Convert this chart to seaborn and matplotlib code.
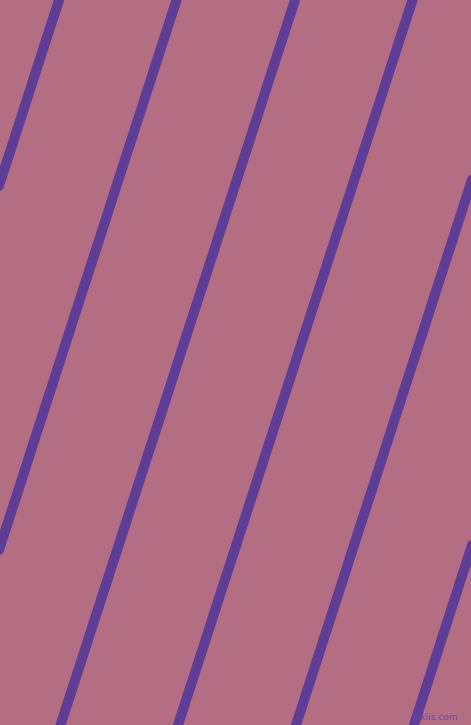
import numpy as np
import pandas as pd
import matplotlib
matplotlib.use("Agg")
import matplotlib.pyplot as plt
import seaborn as sns

# Stripe positions: x where each stripe meets the top and bottom edge
top_x = [-176.0, -58.5, 59.0, 176.5, 295.0, 412.5, 530.0, 647.5]
bottom_x = [-410.5, -293.0, -175.0, -57.5, 60.5, 178.0, 296.0, 414.0]
edge_y = [0, 725]

background = "#B46E83"
stripe_color = "#5D3D96"

# Build a long table: one row per stripe end
rows = []
for i, (xt, xb) in enumerate(zip(top_x, bottom_x)):
    rows.append({"stripe": i, "x": xt, "y": edge_y[0]})
    rows.append({"stripe": i, "x": xb, "y": edge_y[1]})
df = pd.DataFrame(rows)

sns.set_style("white")
fig = plt.figure(figsize=(4.71, 7.25), dpi=100)
ax = fig.add_axes([0, 0, 1, 1])
fig.patch.set_facecolor(background)
ax.set_facecolor(background)

# Draw the diagonal stripes
sns.lineplot(data=df, x="x", y="y", units="stripe", estimator=None,
             color=stripe_color, linewidth=7.2, sort=False, ax=ax, legend=False)

ax.set_xlim(0, 471)
ax.set_ylim(725, 0)
ax.axis("off")

# Small watermark at bottom right
ax.text(458, 717, "pixlis.com", color="#6A4BA0", fontsize=6.5,
        ha="right", va="center", fontfamily="DejaVu Sans")

fig.savefig("out.png", dpi=100, facecolor=background)
